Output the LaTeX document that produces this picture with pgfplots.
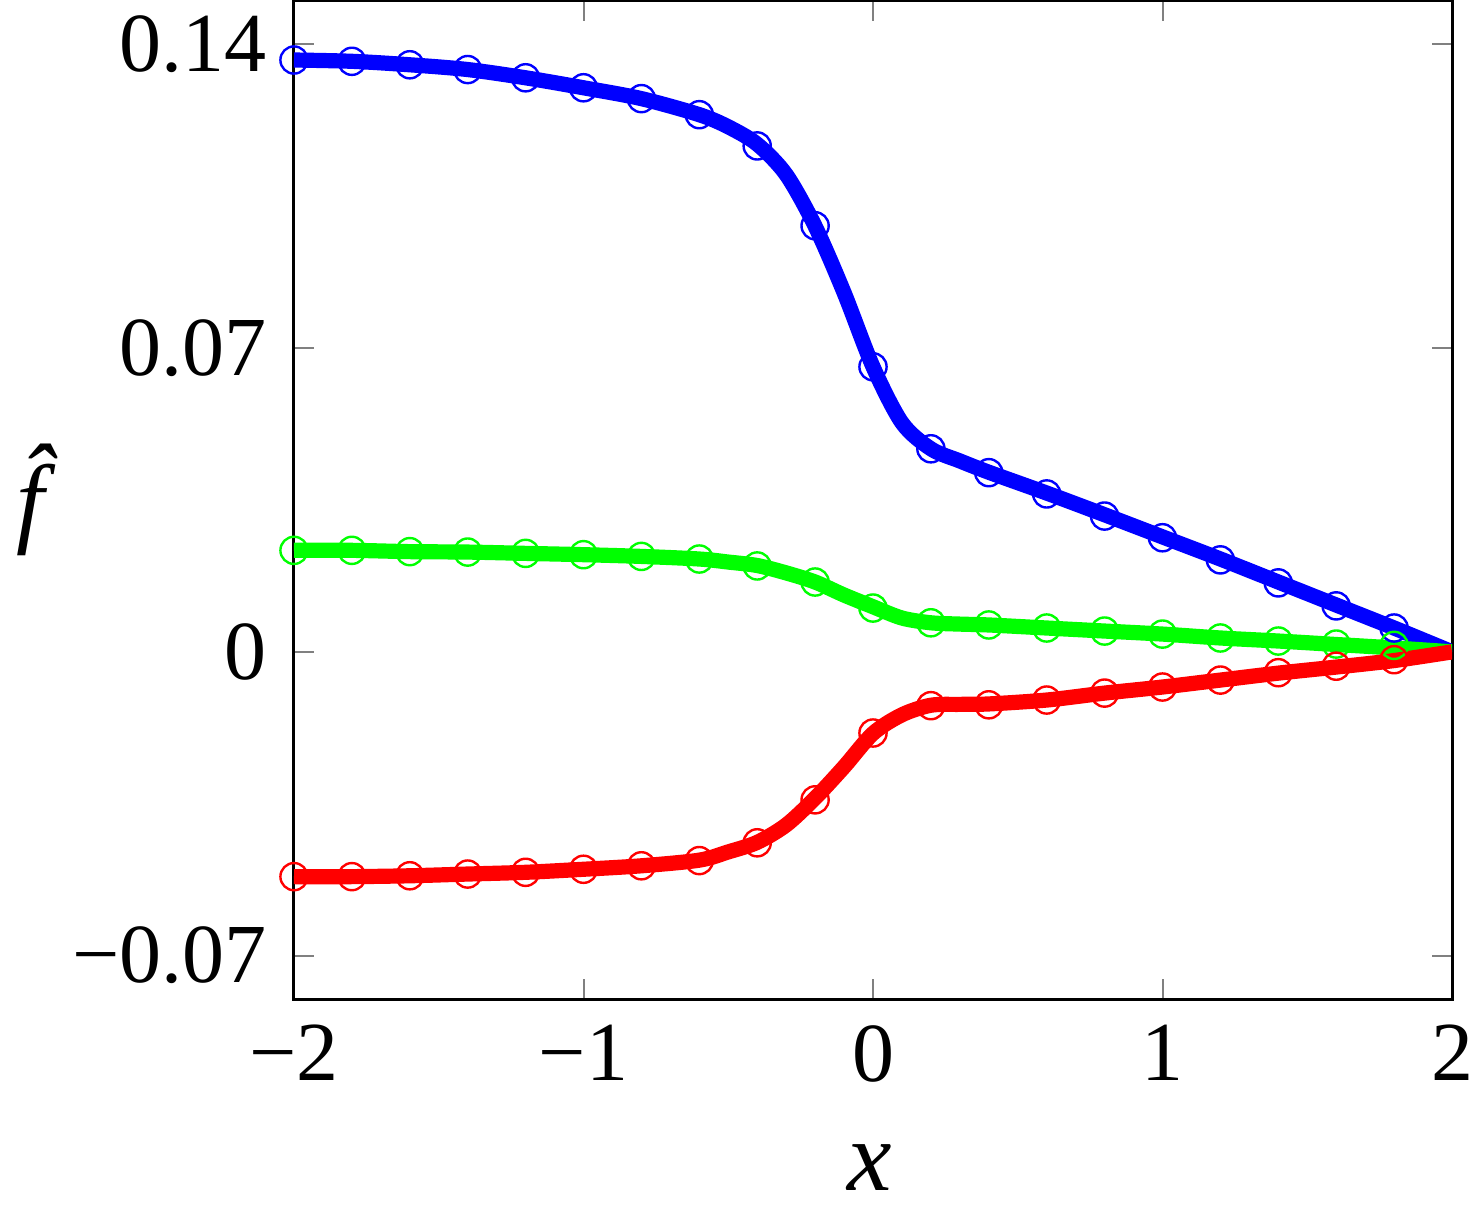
\documentclass[border=0pt]{standalone}
\usepackage{fontspec}
\setmainfont{Liberation Serif}
\usepackage{pgfplots}
\usepackage{pgfplotstable}
\pgfplotsset{compat=1.18}

% lines
\pgfplotstableread{
x y
-2.0 0.1364
-1.8 0.1361
-1.6 0.1353
-1.4 0.1342
-1.2 0.1323
-1.0 0.1300
-0.8 0.1275
-0.6 0.1238
-0.5 0.1210
-0.4 0.1170
-0.3 0.1100
-0.2 0.0981
-0.1 0.0828
0.0 0.0657
0.1 0.0528
0.2 0.0468
0.3 0.0440
0.4 0.0414
0.6 0.0366
0.8 0.0316
1.0 0.0265
1.2 0.0214
1.4 0.0161
1.6 0.0108
1.8 0.0055
2.0 0.0
}\blueline
\pgfplotstableread{
x y
-2.0 0.0234
-1.8 0.0234
-1.6 0.0231
-1.4 0.0230
-1.2 0.0227
-1.0 0.0224
-0.8 0.0220
-0.6 0.0214
-0.5 0.0207
-0.4 0.0199
-0.3 0.0182
-0.2 0.0161
-0.1 0.0131
0.0 0.0104
0.1 0.0078
0.2 0.0067
0.3 0.0064
0.4 0.0062
0.6 0.0055
0.8 0.0048
1.0 0.0041
1.2 0.0032
1.4 0.0025
1.6 0.0017
1.8 0.0009
2.0 0.0
}\greenline
\pgfplotstableread{
x y
-2.0 -0.0518
-1.8 -0.0518
-1.6 -0.0516
-1.4 -0.0512
-1.2 -0.0508
-1.0 -0.0501
-0.8 -0.0493
-0.6 -0.0480
-0.5 -0.0461
-0.4 -0.0439
-0.3 -0.0399
-0.2 -0.0337
-0.1 -0.0265
0.0 -0.0188
0.1 -0.0145
0.2 -0.0123
0.3 -0.0121
0.4 -0.0120
0.6 -0.0111
0.8 -0.0095
1.0 -0.0081
1.2 -0.0065
1.4 -0.0049
1.6 -0.0035
1.8 -0.0020
2.0 0.0
}\redline

% circles
\pgfplotstableread{
x y
-2.0 0.1364
-1.8 0.1361
-1.6 0.1353
-1.4 0.1342
-1.2 0.1323
-1.0 0.1300
-0.8 0.1275
-0.6 0.1238
-0.4 0.1166
-0.2 0.0982
0.0 0.0657
0.2 0.0468
0.4 0.0413
0.6 0.0364
0.8 0.0313
1.0 0.0263
1.2 0.0212
1.4 0.0159
1.6 0.0106
1.8 0.0055
}\bluemk
\pgfplotstableread{
x y
-2.0 0.0234
-1.8 0.0234
-1.6 0.0231
-1.4 0.0230
-1.2 0.0227
-1.0 0.0224
-0.8 0.0220
-0.6 0.0214
-0.4 0.0198
-0.2 0.0161
0.0 0.0101
0.2 0.0067
0.4 0.0062
0.6 0.0055
0.8 0.0048
1.0 0.0041
1.2 0.0032
1.4 0.0025
1.6 0.0018
1.8 0.0015
}\greenmk
\pgfplotstableread{
x y
-2.0 -0.0518
-1.8 -0.0518
-1.6 -0.0516
-1.4 -0.0512
-1.2 -0.0508
-1.0 -0.0501
-0.8 -0.0493
-0.6 -0.0481
-0.4 -0.0440
-0.2 -0.0341
0.0 -0.0187
0.2 -0.0124
0.4 -0.0122
0.6 -0.0111
0.8 -0.0095
1.0 -0.0081
1.2 -0.0065
1.4 -0.0048
1.6 -0.0033
1.8 -0.0018
}\redmk

\begin{document}
\begin{tikzpicture}
\begin{axis}[
name=ax,
scale only axis,
width=289.5pt, height=249.5pt,
xmin=-2, xmax=2, ymin=-0.08, ymax=0.15,
xtick={-2,-1,0,1,2},
xticklabels={−2,−1,0,1,2},
ytick={-0.07,0,0.07,0.14},
yticklabels={−0.07,0,0.07,0.14},
tick align=inside,
major tick length=5pt,
tick style={gray, line width=0.5pt},
axis line style={line width=0.75pt},
tick label style={font=\fontsize{21}{25}\selectfont},
xticklabel style={yshift=-3pt},
yticklabel style={xshift=-3.25pt},
label style={font=\fontsize{25}{30}\selectfont},
xlabel={\textit{x}},
xlabel style={at={(rel axis cs:0.4974,-0.1693)}, anchor=center},
ylabel={\textit{\^{f}}},
ylabel style={at={(rel axis cs:-0.2116,0.5)}, anchor=center, rotate=-90},
]
\addplot[blue, line width=3.8pt, smooth] table {\blueline};
\addplot[blue, only marks, mark=o, mark size=3.4pt, mark options={line width=0.6pt}] table {\bluemk};
\addplot[green, line width=3.8pt, smooth] table {\greenline};
\addplot[green, only marks, mark=o, mark size=3.4pt, mark options={line width=0.6pt}] table {\greenmk};
\addplot[red, line width=3.8pt, smooth] table {\redline};
\addplot[red, only marks, mark=o, mark size=3.4pt, mark options={line width=0.6pt}] table {\redmk};
\end{axis}
\pgfresetboundingbox
\path[use as bounding box] (ax.south west) ++(-73.5pt,-55.25pt) rectangle ([xshift=5.25pt,yshift=0.25pt]ax.north east);
\end{tikzpicture}
\end{document}
